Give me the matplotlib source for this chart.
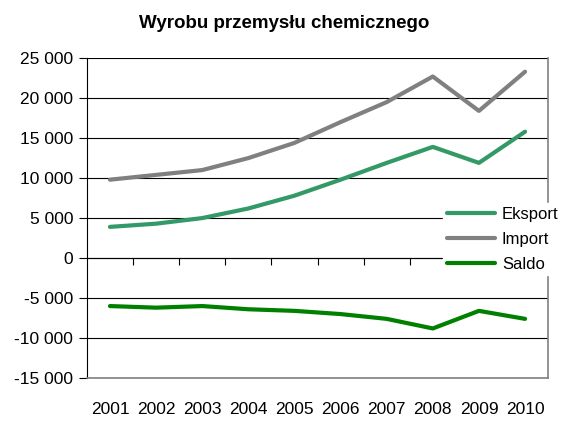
import numpy as np
import matplotlib.pyplot as plt
from matplotlib.ticker import FuncFormatter

plt.rcParams['font.family'] = ['Liberation Sans', 'DejaVu Sans']

# data (mln EUR)
years = ['2001', '2002', '2003', '2004', '2005', '2006', '2007', '2008', '2009', '2010']
eksport = [3900, 4300, 5000, 6200, 7800, 9800, 11900, 13900, 11900, 15800]
imp = [9800, 10400, 11000, 12500, 14400, 17000, 19500, 22700, 18400, 23300]
saldo = [-6000, -6200, -6000, -6400, -6600, -7000, -7600, -8800, -6600, -7600]

fig = plt.figure(figsize=(5.68, 4.21), dpi=100)
ax = fig.add_axes([0.153, 0.102, 0.812, 0.76])

x = np.arange(len(years))
ax.plot(x, eksport, color='#339966', lw=3, label='Eksport', solid_capstyle='round')
ax.plot(x, imp, color='#808080', lw=3, label='Import', solid_capstyle='round')
ax.plot(x, saldo, color='#008000', lw=3, label='Saldo', solid_capstyle='round')

ax.set_xlim(-0.5, len(years) - 0.5)
ax.set_ylim(-15000, 25000)
ax.set_yticks(np.arange(-15000, 25001, 5000))
ax.yaxis.set_major_formatter(FuncFormatter(lambda v, p: f'{int(v):,}'.replace(',', ' ')))
ax.grid(axis='y', color='black', lw=0.8)
ax.set_axisbelow(True)

ax.set_xticks(x)
ax.set_xticklabels(years)
ax.tick_params(axis='x', length=0, pad=17, labelsize=12.5)
ax.tick_params(axis='y', direction='out', length=6, color='black', labelsize=12.5, pad=4)

for s in ['top', 'right', 'bottom']:
    ax.spines[s].set_color('#808080')
    ax.spines[s].set_linewidth(1.2)
ax.spines['top'].set_visible(False)
ax.spines['left'].set_color('black')

# category axis crossing at zero with boundary tick marks
sec = ax.secondary_xaxis(0.375)
sec.set_xticks(np.arange(0.5, len(years) - 1, 1.0))
sec.set_xticklabels([])
sec.tick_params(direction='out', length=5, color='black')
sec.spines['bottom'].set_color('black')

leg = ax.legend(loc='center left', bbox_to_anchor=(0.755, 0.434), frameon=True,
                fontsize=12, handlelength=2.9, handletextpad=0.4,
                labelspacing=0.6, borderpad=0.2)
leg.get_frame().set_edgecolor('white')
leg.get_frame().set_facecolor('white')
leg.get_frame().set_alpha(1)
leg.set_zorder(5)

fig.suptitle('Wyrobu przemysłu chemicznego', fontsize=13.5, fontweight='bold', y=0.965)

fig.savefig('out.png', dpi=100)
